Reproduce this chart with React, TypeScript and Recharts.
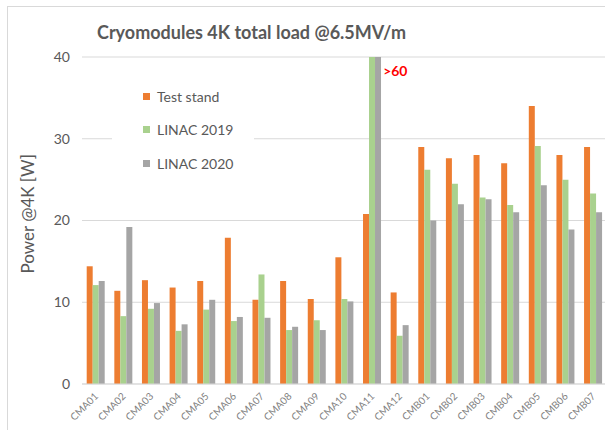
import React from 'react';
import { BarChart, Bar, XAxis, YAxis, CartesianGrid, ReferenceDot } from 'recharts';

const categories = ['CMA01', 'CMA02', 'CMA03', 'CMA04', 'CMA05', 'CMA06', 'CMA07', 'CMA08', 'CMA09', 'CMA10', 'CMA11', 'CMA12', 'CMB01', 'CMB02', 'CMB03', 'CMB04', 'CMB05', 'CMB06', 'CMB07'];
const testStand = [14.4, 11.4, 12.7, 11.8, 12.6, 17.9, 10.3, 12.6, 10.4, 15.5, 20.8, 11.2, 29.0, 27.6, 28.0, 27.0, 34.0, 28.0, 29.0];
const linac2019 = [12.1, 8.3, 9.2, 6.5, 9.1, 7.7, 13.4, 6.6, 7.8, 10.4, 60, 5.9, 26.2, 24.5, 22.8, 21.9, 29.1, 25.0, 23.3];
const linac2020 = [12.6, 19.2, 9.9, 7.3, 10.3, 8.2, 8.1, 7.0, 6.6, 10.1, 60, 7.2, 20.0, 22.0, 22.6, 21.0, 24.3, 18.9, 21.0];
const yTicks = [0, 10, 20, 30, 40];
const overflowCategory = 'CMA11';
const overflowText = '>60';

const series = [
  { key: 'ts', name: 'Test stand', color: '#ED7D31' },
  { key: 'l19', name: 'LINAC 2019', color: '#A9D18E' },
  { key: 'l20', name: 'LINAC 2020', color: '#A5A5A5' },
];

const data = categories.map((c, i) => ({ name: c, ts: testStand[i], l19: linac2019[i], l20: linac2020[i] }));

const FONT = 'Lato, "Open Sans", sans-serif';
const TEXT = '#595959';

const XTick = (props: any) => {
  const { x, y, payload } = props;
  return (
    <g transform={`translate(${x + 3},${y + 5})`}>
      <text textAnchor="end" transform="rotate(-45)" fontSize={10} fill="#7f7f7f" fontFamily={FONT}>
        {payload.value}
      </text>
    </g>
  );
};

const OverflowLabel = (props: any) => {
  const vb = props.viewBox || {};
  const cx = (vb.x || 0) + (vb.width || 0) / 2;
  const cy = (vb.y || 0) + (vb.height || 0) / 2;
  return (
    <text x={cx + 11} y={cy + 19} fill="#FF0000" fontWeight={700} fontSize={14} fontFamily={FONT}>
      {overflowText}
    </text>
  );
};

export default function App() {
  return (
    <div style={{ position: 'fixed', left: 0, top: 0, width: 605, height: 430, overflow: 'hidden', background: '#fff', fontFamily: FONT }}>
      <div style={{ position: 'absolute', left: 7, top: 6, width: 650, height: 460, border: '1px solid #d9d9d9' }} />
      <div style={{ position: 'absolute', left: 0, top: 0 }}>
        <BarChart width={625} height={430} data={data} margin={{ top: 57, right: 18, bottom: 0, left: 20 }} barCategoryGap="17%" barGap={0}>
          <CartesianGrid vertical={false} stroke="#d9d9d9" />
          <XAxis dataKey="name" interval={0} tickLine={false} axisLine={{ stroke: '#d9d9d9' }} height={46} tick={<XTick />} />
          <YAxis
            width={62}
            domain={[0, 40]}
            ticks={yTicks}
            allowDataOverflow
            tickLine={false}
            axisLine={false}
            tickMargin={6}
            tick={{ fill: TEXT, fontSize: 14, fontFamily: FONT }}
            label={{ value: 'Power @4K [W]', angle: -90, position: 'insideLeft', dx: 3, dy: 53, fill: TEXT, fontSize: 17, fontFamily: FONT }}
          />
          {series.map((s) => (
            <Bar key={s.key} dataKey={s.key} name={s.name} fill={s.color} isAnimationActive={false} />
          ))}
          <ReferenceDot x={overflowCategory} y={40} r={1} fill="none" stroke="none" ifOverflow="visible" label={<OverflowLabel />} />
        </BarChart>
      </div>
      <div style={{ position: 'absolute', left: 97, top: 21, fontSize: 18, fontWeight: 700, color: TEXT, whiteSpace: 'nowrap' }}>
        Cryomodules 4K total load @6.5MV/m
      </div>
      <div style={{ position: 'absolute', left: 112, top: 78, width: 142, height: 104, background: '#fff' }}>
        {series.map((s, i) => (
          <div key={s.key} style={{ position: 'absolute', left: 31, top: 9 + i * 33.7, display: 'flex', alignItems: 'center', height: 18 }}>
            <div style={{ width: 7, height: 7, background: s.color, marginRight: 7 }} />
            <span style={{ fontSize: 14, color: TEXT, whiteSpace: 'nowrap' }}>{s.name}</span>
          </div>
        ))}
      </div>
    </div>
  );
}
